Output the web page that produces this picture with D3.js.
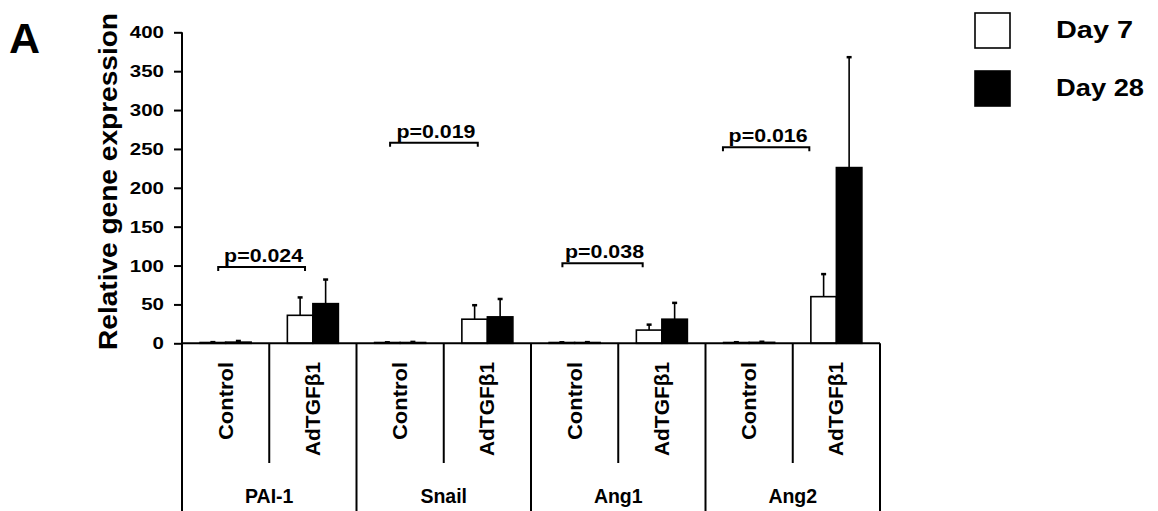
<!DOCTYPE html>
<html>
<head>
<meta charset="utf-8">
<script src="https://cdn.jsdelivr.net/npm/d3@7"></script>
<style>
  html, body { margin: 0; padding: 0; background: #fff; }
  svg { display: block; }
  text { font-family: "Liberation Sans", Arial, sans-serif; font-weight: bold; fill: #000; }
</style>
</head>
<body>
<svg id="chart" width="1158" height="511"></svg>
<script>
// Genes and treatment groups
const genes = ["PAI-1", "Snail", "Ang1", "Ang2"];
const treatments = ["Control", "AdTGFβ1"];
const days = ["Day 7", "Day 28"];

// Mean relative expression, per gene: [Control, AdTGFβ1]
const day7Mean  = [[1, 36], [1, 31], [1, 17], [1, 60]];
const day28Mean = [[1.5, 51], [1, 34], [1, 31], [1.2, 226]];
// Upper error (SD), per gene: [Control, AdTGFβ1]
const day7Err   = [[0.5, 23], [0.3, 18], [0.3, 7], [0.4, 29]];
const day28Err  = [[1.5, 31], [0.8, 23], [0.5, 21], [0.8, 142]];

// Significance brackets (Control vs AdTGFβ1, Day 7)
const pLabels = ["p=0.024", "p=0.019", "p=0.038", "p=0.016"];
const bracketLevel = [98, 258, 103, 252];

const yTicks = [0, 50, 100, 150, 200, 250, 300, 350, 400];

// Layout
const svg = d3.select("#chart");
const plotLeft = 182, plotRight = 880, plotTop = 32.3, base = 343.3, tableBottom = 511;
const subLineEnd = 463;
// horizontal nudge of each bracket (in sub-band widths) from the group centres
const bracketShiftL = [-0.085, -0.115, -0.14, -0.30];
const bracketShiftR = [-0.09, -0.11, -0.22, -0.31];

const y = d3.scaleLinear().domain([0, 400]).range([base, plotTop]);
const x = d3.scaleBand().domain(genes).range([plotLeft, plotRight]).padding(0);
const xs = d3.scaleBand().domain(treatments).range([0, x.bandwidth()]).padding(0);
const xd = d3.scaleBand().domain(days).range([0, xs.bandwidth()]).paddingInner(0).paddingOuter(0.71);

// Bars
const rows = [];
genes.forEach((g, gi) => {
  treatments.forEach((t, ti) => {
    rows.push({ g, t, day: "Day 7", v: day7Mean[gi][ti], e: day7Err[gi][ti] });
    rows.push({ g, t, day: "Day 28", v: day28Mean[gi][ti], e: day28Err[gi][ti] });
  });
});
const bx = d => x(d.g) + xs(d.t) + xd(d.day);

// Error bars (upper only)
const eg = svg.append("g");
eg.selectAll("line.err").data(rows).join("line").attr("class", "err")
  .attr("x1", d => bx(d) + xd.bandwidth() / 2)
  .attr("x2", d => bx(d) + xd.bandwidth() / 2)
  .attr("y1", d => y(d.v))
  .attr("y2", d => y(d.v + d.e))
  .attr("stroke", "#000").attr("stroke-width", 1.6);
eg.selectAll("line.cap").data(rows).join("line").attr("class", "cap")
  .attr("x1", d => bx(d) + xd.bandwidth() / 2 - 2.5)
  .attr("x2", d => bx(d) + xd.bandwidth() / 2 + 2.5)
  .attr("y1", d => y(d.v + d.e))
  .attr("y2", d => y(d.v + d.e))
  .attr("stroke", "#000").attr("stroke-width", 2.5);

svg.append("g").selectAll("rect").data(rows).join("rect")
  .attr("x", bx)
  .attr("width", xd.bandwidth())
  .attr("y", d => y(d.v))
  .attr("height", d => base - y(d.v))
  .attr("fill", d => d.day === "Day 7" ? "#fff" : "#000")
  .attr("stroke", "#000").attr("stroke-width", 1.6);

// Y axis
const yAxis = svg.append("g")
  .attr("transform", `translate(${plotLeft},0)`)
  .call(d3.axisLeft(y).tickValues(yTicks).tickSize(8).tickSizeOuter(0).tickPadding(10));
yAxis.select(".domain").remove();
yAxis.selectAll(".tick line").attr("stroke", "#000").attr("stroke-width", 2);
yAxis.selectAll(".tick text")
  .attr("font-size", 17)
  .attr("textLength", d => String(d).length * 11.4)
  .attr("lengthAdjust", "spacingAndGlyphs");

// Axis frame and category table
const frame = svg.append("g").attr("stroke", "#000").attr("stroke-width", 2);
frame.append("line").attr("x1", plotLeft).attr("x2", plotLeft).attr("y1", plotTop).attr("y2", tableBottom);
frame.append("line").attr("x1", plotLeft).attr("x2", plotRight).attr("y1", base).attr("y2", base);
genes.forEach(g => {
  frame.append("line").attr("x1", x(g) + x.bandwidth()).attr("x2", x(g) + x.bandwidth())
    .attr("y1", base).attr("y2", tableBottom);
  frame.append("line").attr("x1", x(g) + xs("AdTGFβ1")).attr("x2", x(g) + xs("AdTGFβ1"))
    .attr("y1", base).attr("y2", subLineEnd);
});

// Treatment labels (rotated)
const tl = svg.append("g");
genes.forEach(g => {
  treatments.forEach(t => {
    const cx = x(g) + xs(t) + xs.bandwidth() / 2 + 7;
    tl.append("text")
      .attr("transform", `translate(${cx},362) rotate(-90)`)
      .attr("text-anchor", "end")
      .attr("font-size", 20)
      .attr("textLength", t === "Control" ? 78 : 94)
      .attr("lengthAdjust", "spacingAndGlyphs")
      .text(t);
  });
});

// Gene labels
svg.append("g").selectAll("text").data(genes).join("text")
  .attr("x", g => x(g) + x.bandwidth() / 2)
  .attr("y", 503)
  .attr("text-anchor", "middle")
  .attr("font-size", 19.5)
  .text(g => g);

// Significance brackets
const br = svg.append("g");
genes.forEach((g, i) => {
  const x1 = x(g) + xs("Control") + xs.bandwidth() * (0.5 + bracketShiftL[i]);
  const x2 = x(g) + xs("AdTGFβ1") + xs.bandwidth() * (0.5 + bracketShiftR[i]);
  const yy = y(bracketLevel[i]);
  br.append("path")
    .attr("d", `M${x1},${yy + 4} L${x1},${yy} L${x2},${yy} L${x2},${yy + 4}`)
    .attr("fill", "none").attr("stroke", "#000").attr("stroke-width", 2);
  br.append("text")
    .attr("x", (x1 + x2) / 2 + 2)
    .attr("y", yy - 5)
    .attr("text-anchor", "middle")
    .attr("font-size", 18)
    .attr("textLength", 79)
    .attr("lengthAdjust", "spacingAndGlyphs")
    .text(pLabels[i]);
});

// Y axis title
svg.append("text")
  .attr("transform", `translate(117,${(13 + 350) / 2}) rotate(-90)`)
  .attr("text-anchor", "middle")
  .attr("font-size", 26.5)
  .attr("textLength", 337)
  .attr("lengthAdjust", "spacingAndGlyphs")
  .text("Relative gene expression");

// Panel letter
svg.append("text").attr("x", 9).attr("y", 53).attr("font-size", 43).text("A");

// Legend
const lg = svg.append("g");
days.forEach((d, i) => {
  lg.append("rect")
    .attr("x", 975).attr("y", 13 + i * 58)
    .attr("width", 35).attr("height", 35)
    .attr("fill", i === 0 ? "#fff" : "#000")
    .attr("stroke", "#000").attr("stroke-width", 1.6);
  lg.append("text")
    .attr("x", 1056).attr("y", 38 + i * 58)
    .attr("font-size", 23)
    .attr("textLength", i === 0 ? 77 : 88)
    .attr("lengthAdjust", "spacingAndGlyphs")
    .text(d);
});
</script>
</body>
</html>
